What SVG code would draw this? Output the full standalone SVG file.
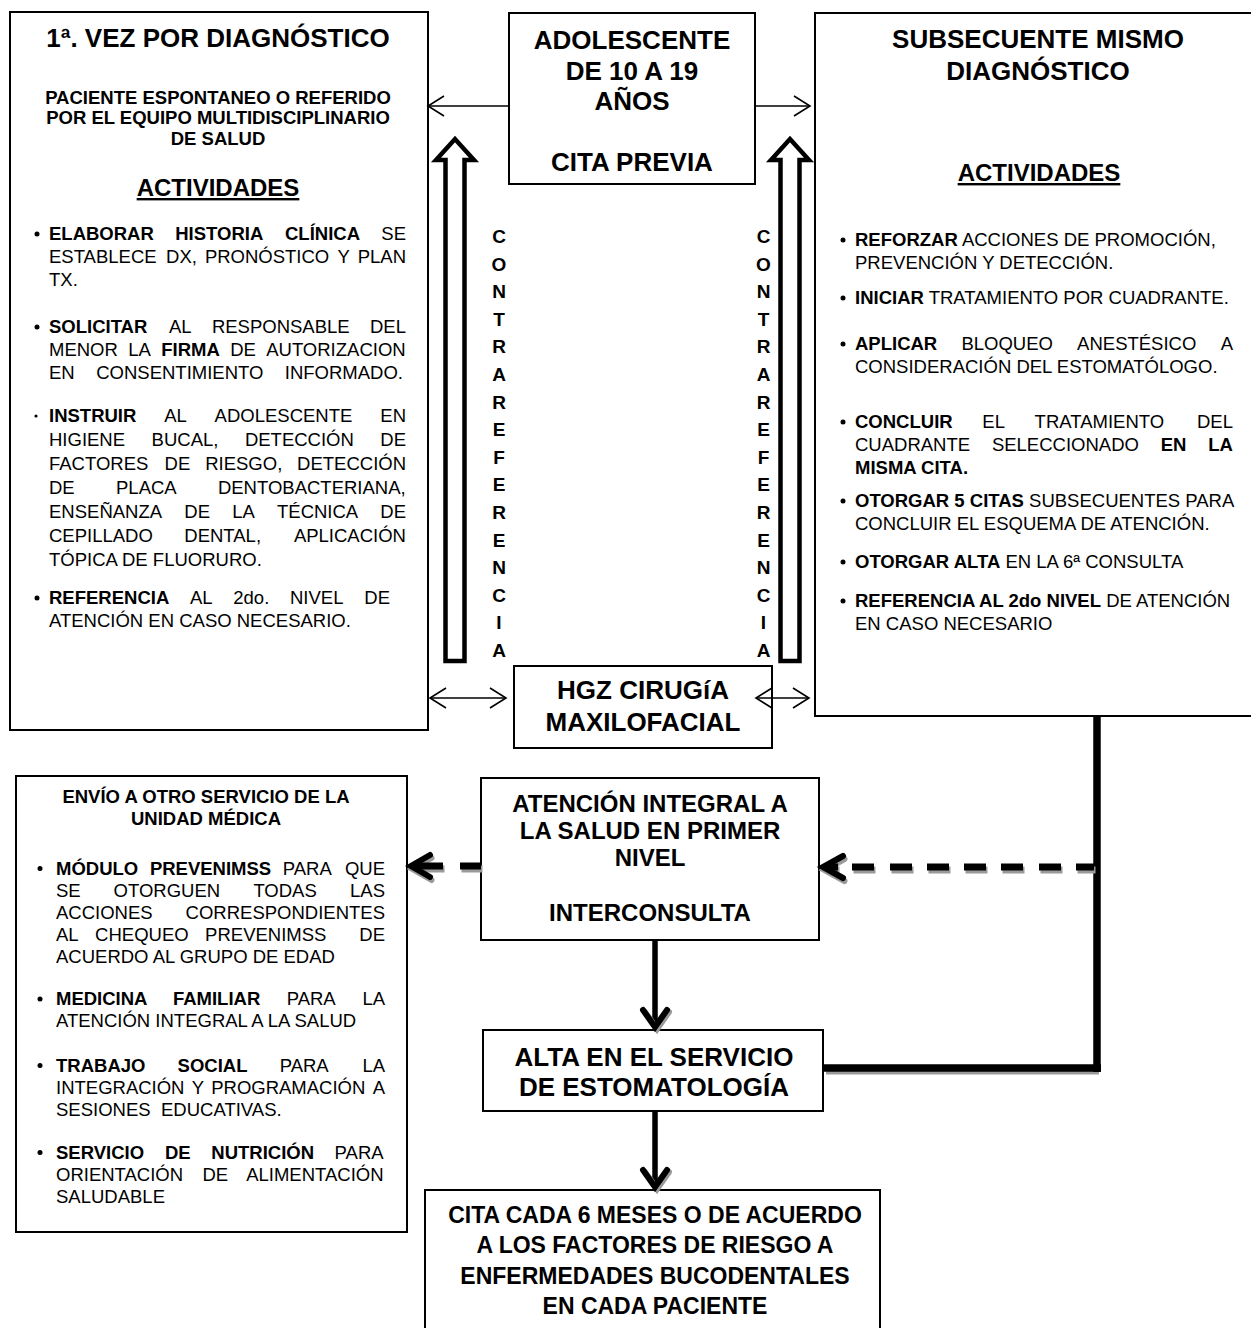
<svg xmlns="http://www.w3.org/2000/svg" width="1251" height="1328" viewBox="0 0 1251 1328">
<defs>
<style>
.bx{fill:#fff;stroke:#000;stroke-width:2}
text{font-family:"Liberation Sans",Arial,Helvetica,sans-serif;fill:#000}
.ti{font-size:26px;font-weight:bold;text-anchor:middle}
.tm{font-size:24px;font-weight:bold;text-anchor:middle}
.tc{font-size:23px;font-weight:bold;text-anchor:middle}
.sub{font-size:18.5px;font-weight:bold;text-anchor:middle}
.act{font-size:24px;font-weight:bold;text-anchor:middle;text-decoration:underline}
.bd{font-size:18.5px}
.b{font-weight:bold}
.vl{font-size:19px;font-weight:bold;text-anchor:middle}
.thin{fill:none;stroke:#000;stroke-width:1.6}
.blk{fill:#fff;stroke:#000;stroke-width:4.5;stroke-linejoin:miter}
.thick{fill:none;stroke:#000;stroke-width:7.5}
.dash{fill:none;stroke:#000;stroke-width:7}
.shd{fill:none;stroke:#9a9a9a;stroke-width:7}
.chev{fill:none;stroke:#000;stroke-width:6;stroke-linecap:round;stroke-linejoin:miter}
.chevs{fill:none;stroke:#9a9a9a;stroke-width:6;stroke-linecap:round}
.vln{fill:none;stroke:#000;stroke-width:5.5}
</style>
</defs>
<rect width="1251" height="1328" fill="#fff"/>

<!-- first visit box -->
<g id="primera-vez">
  <rect class="bx" x="10" y="12" width="418" height="718"/>
  <text class="ti" x="218" y="47">1ª. VEZ POR DIAGNÓSTICO</text>
  <text class="sub" x="218" y="104">PACIENTE ESPONTANEO O REFERIDO</text>
  <text class="sub" x="218" y="124">POR EL EQUIPO MULTIDISCIPLINARIO</text>
  <text class="sub" x="218" y="145">DE SALUD</text>
  <text class="act" x="218" y="196">ACTIVIDADES</text>
  <circle cx="37" cy="234" r="2.5"/>
  <text class="bd" y="240"><tspan x="49" class="b">ELABORAR</tspan><tspan x="175.2" class="b">HISTORIA</tspan><tspan x="285" class="b">CLÍNICA</tspan><tspan x="381.3">SE</tspan></text>
  <text class="bd" y="263"><tspan x="49">ESTABLECE</tspan><tspan x="166.1">DX,</tspan><tspan x="204.9">PRONÓSTICO</tspan><tspan x="337.4">Y</tspan><tspan x="357.7">PLAN</tspan></text>
  <text class="bd" x="49" y="286">TX.</text>
  <circle cx="37" cy="327" r="2.5"/>
  <text class="bd" y="333"><tspan x="49" class="b">SOLICITAR</tspan><tspan x="169">AL</tspan><tspan x="211.9">RESPONSABLE</tspan><tspan x="370">DEL</tspan></text>
  <text class="bd" y="356"><tspan x="49">MENOR</tspan><tspan x="128.3">LA</tspan><tspan x="161.2" class="b">FIRMA</tspan><tspan x="230.2">DE</tspan><tspan x="266.2">AUTORIZACION</tspan></text>
  <text class="bd" y="379"><tspan x="49">EN</tspan><tspan x="96.2">CONSENTIMIENTO</tspan><tspan x="284.8">INFORMADO.</tspan></text>
  <circle cx="36" cy="416" r="1.6"/>
  <text class="bd" y="422"><tspan x="49" class="b">INSTRUIR</tspan><tspan x="164.2">AL</tspan><tspan x="214.6">ADOLESCENTE</tspan><tspan x="380.3">EN</tspan></text>
  <text class="bd" y="446"><tspan x="49">HIGIENE</tspan><tspan x="151.6">BUCAL,</tspan><tspan x="244.9">DETECCIÓN</tspan><tspan x="380.3">DE</tspan></text>
  <text class="bd" y="470"><tspan x="49">FACTORES</tspan><tspan x="164.6">DE</tspan><tspan x="205.2">RIESGO,</tspan><tspan x="297.1">DETECCIÓN</tspan></text>
  <text class="bd" y="494"><tspan x="49">DE</tspan><tspan x="116">PLACA</tspan><tspan x="217.9">DENTOBACTERIANA,</tspan></text>
  <text class="bd" y="518"><tspan x="49">ENSEÑANZA</tspan><tspan x="184.3">DE</tspan><tspan x="232.2">LA</tspan><tspan x="277">TÉCNICA</tspan><tspan x="380.3">DE</tspan></text>
  <text class="bd" y="542"><tspan x="49">CEPILLADO</tspan><tspan x="184.3">DENTAL,</tspan><tspan x="293.9">APLICACIÓN</tspan></text>
  <text class="bd" x="49" y="566">TÓPICA DE FLUORURO.</text>
  <circle cx="37" cy="598" r="2.5"/>
  <text class="bd" y="604"><tspan x="49" class="b">REFERENCIA</tspan><tspan x="190">AL</tspan><tspan x="233.3">2do.</tspan><tspan x="290">NIVEL</tspan><tspan x="364.3">DE</tspan></text>
  <text class="bd" x="49" y="627">ATENCIÓN EN CASO NECESARIO.</text>
</g>

<!-- patient box -->
<g id="adolescente">
  <rect class="bx" x="509" y="13" width="246" height="171"/>
  <text class="ti" x="632" y="49">ADOLESCENTE</text>
  <text class="ti" x="632" y="80">DE 10 A 19</text>
  <text class="ti" x="632" y="110">AÑOS</text>
  <text class="ti" x="632" y="171">CITA PREVIA</text>
</g>

<!-- follow-up box -->
<g id="subsecuente">
  <rect class="bx" x="815" y="13" width="450" height="703"/>
  <text class="ti" x="1038" y="48">SUBSECUENTE MISMO</text>
  <text class="ti" x="1038" y="80">DIAGNÓSTICO</text>
  <text class="act" x="1039" y="181">ACTIVIDADES</text>
  <circle cx="843" cy="240" r="2.5"/>
  <text class="bd" x="855" y="246"><tspan class="b">REFORZAR</tspan> ACCIONES DE PROMOCIÓN,</text>
  <text class="bd" x="855" y="269">PREVENCIÓN Y DETECCIÓN.</text>
  <circle cx="843" cy="298" r="2.5"/>
  <text class="bd" x="855" y="304"><tspan class="b">INICIAR</tspan> TRATAMIENTO POR CUADRANTE.</text>
  <circle cx="843" cy="344" r="2.5"/>
  <text class="bd" y="350"><tspan x="855" class="b">APLICAR</tspan><tspan x="961.4">BLOQUEO</tspan><tspan x="1077.1">ANESTÉSICO</tspan><tspan x="1220.7">A</tspan></text>
  <text class="bd" x="855" y="373">CONSIDERACIÓN DEL ESTOMATÓLOGO.</text>
  <circle cx="843" cy="422" r="2.5"/>
  <text class="bd" y="428"><tspan x="855" class="b">CONCLUIR</tspan><tspan x="982.3">EL</tspan><tspan x="1034.6">TRATAMIENTO</tspan><tspan x="1197">DEL</tspan></text>
  <text class="bd" y="451"><tspan x="855">CUADRANTE</tspan><tspan x="991.9">SELECCIONADO</tspan><tspan x="1160.7" class="b">EN</tspan><tspan x="1208.3" class="b">LA</tspan></text>
  <text class="bd b" x="855" y="474">MISMA CITA.</text>
  <circle cx="843" cy="501" r="2.5"/>
  <text class="bd" x="855" y="507"><tspan class="b">OTORGAR 5 CITAS</tspan> SUBSECUENTES PARA</text>
  <text class="bd" x="855" y="530">CONCLUIR EL ESQUEMA DE ATENCIÓN.</text>
  <circle cx="843" cy="562" r="2.5"/>
  <text class="bd" x="855" y="568"><tspan class="b">OTORGAR ALTA</tspan> EN LA 6ª CONSULTA</text>
  <circle cx="843" cy="601" r="2.5"/>
  <text class="bd" x="855" y="607"><tspan class="b">REFERENCIA AL 2do NIVEL</tspan> DE ATENCIÓN</text>
  <text class="bd" x="855" y="630">EN CASO NECESARIO</text>
</g>

<!-- counter-referral labels -->
<g id="contrareferencia-izq">
  <text class="vl" x="499" y="243">C</text><text class="vl" x="499" y="270.6">O</text><text class="vl" x="499" y="298.2">N</text><text class="vl" x="499" y="325.8">T</text>
  <text class="vl" x="499" y="353.4">R</text><text class="vl" x="499" y="381">A</text><text class="vl" x="499" y="408.6">R</text><text class="vl" x="499" y="436.2">E</text>
  <text class="vl" x="499" y="463.8">F</text><text class="vl" x="499" y="491.4">E</text><text class="vl" x="499" y="519">R</text><text class="vl" x="499" y="546.6">E</text>
  <text class="vl" x="499" y="574.2">N</text><text class="vl" x="499" y="601.8">C</text><text class="vl" x="499" y="629.4">I</text><text class="vl" x="499" y="657">A</text>
</g>
<g id="contrareferencia-der">
  <text class="vl" x="763.5" y="243">C</text><text class="vl" x="763.5" y="270.6">O</text><text class="vl" x="763.5" y="298.2">N</text><text class="vl" x="763.5" y="325.8">T</text>
  <text class="vl" x="763.5" y="353.4">R</text><text class="vl" x="763.5" y="381">A</text><text class="vl" x="763.5" y="408.6">R</text><text class="vl" x="763.5" y="436.2">E</text>
  <text class="vl" x="763.5" y="463.8">F</text><text class="vl" x="763.5" y="491.4">E</text><text class="vl" x="763.5" y="519">R</text><text class="vl" x="763.5" y="546.6">E</text>
  <text class="vl" x="763.5" y="574.2">N</text><text class="vl" x="763.5" y="601.8">C</text><text class="vl" x="763.5" y="629.4">I</text><text class="vl" x="763.5" y="657">A</text>
</g>

<!-- surgery referral -->
<g id="hgz">
  <rect class="bx" x="514" y="666" width="258" height="82"/>
  <text class="ti" x="643" y="699">HGZ CIRUGíA</text>
  <text class="ti" x="643" y="731">MAXILOFACIAL</text>
</g>

<!-- other services -->
<g id="envio">
  <rect class="bx" x="16" y="776" width="391" height="456"/>
  <text class="sub" x="206" y="803">ENVÍO A OTRO SERVICIO DE LA</text>
  <text class="sub" x="206" y="825">UNIDAD MÉDICA</text>
  <circle cx="40" cy="868.5" r="2.5"/>
  <text class="bd" y="874.5"><tspan x="56" class="b">MÓDULO</tspan><tspan x="149.9" class="b">PREVENIMSS</tspan><tspan x="282.8">PARA</tspan><tspan x="344.9">QUE</tspan></text>
  <text class="bd" y="896.5"><tspan x="56">SE</tspan><tspan x="113.6">OTORGUEN</tspan><tspan x="253.4">TODAS</tspan><tspan x="350">LAS</tspan></text>
  <text class="bd" y="918.5"><tspan x="56">ACCIONES</tspan><tspan x="185.6">CORRESPONDIENTES</tspan></text>
  <text class="bd" y="940.5"><tspan x="56">AL</tspan><tspan x="95.1">CHEQUEO</tspan><tspan x="205.1">PREVENIMSS</tspan><tspan x="359.3">DE</tspan></text>
  <text class="bd" x="56" y="962.5">ACUERDO AL GRUPO DE EDAD</text>
  <circle cx="40" cy="999" r="2.5"/>
  <text class="bd" y="1005"><tspan x="56" class="b">MEDICINA</tspan><tspan x="172.9" class="b">FAMILIAR</tspan><tspan x="286.7">PARA</tspan><tspan x="362.4">LA</tspan></text>
  <text class="bd" x="56" y="1027">ATENCIÓN INTEGRAL A LA SALUD</text>
  <circle cx="40" cy="1065.5" r="2.5"/>
  <text class="bd" y="1071.5"><tspan x="56" class="b">TRABAJO</tspan><tspan x="177.6" class="b">SOCIAL</tspan><tspan x="279.7">PARA</tspan><tspan x="362.4">LA</tspan></text>
  <text class="bd" y="1093.5"><tspan x="56">INTEGRACIÓN</tspan><tspan x="191.7">Y</tspan><tspan x="211.2">PROGRAMACIÓN</tspan><tspan x="372.7">A</tspan></text>
  <text class="bd" y="1115.5"><tspan x="56">SESIONES</tspan><tspan x="161">EDUCATIVAS.</tspan></text>
  <circle cx="40" cy="1152.5" r="2.5"/>
  <text class="bd" y="1158.5"><tspan x="56" class="b">SERVICIO</tspan><tspan x="165" class="b">DE</tspan><tspan x="211.3" class="b">NUTRICIÓN</tspan><tspan x="334.6">PARA</tspan></text>
  <text class="bd" y="1180.5"><tspan x="56">ORIENTACIÓN</tspan><tspan x="202.5">DE</tspan><tspan x="246.2">ALIMENTACIÓN</tspan></text>
  <text class="bd" x="56" y="1202.5">SALUDABLE</text>
</g>

<!-- interconsultation -->
<g id="atencion-integral">
  <rect class="bx" x="481" y="778" width="338" height="162"/>
  <text class="tm" x="650" y="811.5">ATENCIÓN INTEGRAL A</text>
  <text class="tm" x="650" y="838.5">LA SALUD EN PRIMER</text>
  <text class="tm" x="650" y="865.5">NIVEL</text>
  <text class="tm" x="650" y="920.5">INTERCONSULTA</text>
</g>

<!-- discharge -->
<g id="alta">
  <rect class="bx" x="483" y="1030" width="340" height="81"/>
  <text class="ti" x="654" y="1066">ALTA EN EL SERVICIO</text>
  <text class="ti" x="654" y="1096">DE ESTOMATOLOGÍA</text>
</g>

<!-- next appointment -->
<g id="cita">
  <rect class="bx" x="425" y="1190" width="455" height="150"/>
  <text class="tc" x="655" y="1223">CITA CADA 6 MESES O DE ACUERDO</text>
  <text class="tc" x="655" y="1253">A LOS FACTORES DE RIESGO A</text>
  <text class="tc" x="655" y="1284">ENFERMEDADES BUCODENTALES</text>
  <text class="tc" x="655" y="1314">EN CADA PACIENTE</text>
</g>

<!-- connectors -->
<g id="connectors">
  <!-- adolescent box to both consultation boxes -->
  <line class="thin" x1="509" y1="106" x2="429" y2="106"/>
  <polyline class="thin" points="444,96 428,106 444,116"/>
  <line class="thin" x1="755" y1="106" x2="809" y2="106"/>
  <polyline class="thin" points="794,96 810,106 794,116"/>
  <!-- two-way links with the surgery box -->
  <line class="thin" x1="431" y1="698" x2="505" y2="698"/>
  <polyline class="thin" points="446,688 430,698 446,708"/>
  <polyline class="thin" points="490,688 506,698 490,708"/>
  <line class="thin" x1="757" y1="698" x2="808" y2="698"/>
  <polyline class="thin" points="772,688 756,698 772,708"/>
  <polyline class="thin" points="793,688 809,698 793,708"/>
  <!-- counter-referral block arrows -->
  <polygon class="blk" points="445.5,661 445.5,160 436,160 455,139 474,160 464.5,160 464.5,661"/>
  <polygon class="blk" points="780.5,661 780.5,160 771,160 790,139 809,160 799.5,160 799.5,661"/>
  <!-- thick return path from the follow-up box -->
  <line class="shd" x1="826" y1="1071" x2="1099" y2="1071"/>
  <line class="thick" x1="1097" y1="716" x2="1097" y2="1072"/>
  <line class="thick" x1="823" y1="1068" x2="1101" y2="1068"/>
  <!-- dashed arrow into the interconsultation box -->
  <g transform="translate(1.5,3)">
    <path class="shd" d="M1076,867H1094M1039,867H1061M1001,867H1023M964,867H986M927,867H949M890,867H912M852,867H874M824,867H838"/>
    <polyline class="chevs" points="843,856 823,867 843,878"/>
  </g>
  <path class="dash" d="M1076,867H1094M1039,867H1061M1001,867H1023M964,867H986M927,867H949M890,867H912M852,867H874M824,867H838"/>
  <polyline class="chev" points="843,856 823,867 843,878"/>
  <!-- dashed arrow into the referral box -->
  <g transform="translate(1.5,3)">
    <path class="shd" d="M460,866H481M414,866H443"/>
    <polyline class="chevs" points="430,855 411,866 430,877"/>
  </g>
  <path class="dash" d="M460,866H481M414,866H443"/>
  <polyline class="chev" points="430,855 411,866 430,877"/>
  <!-- vertical flow arrows -->
  <line class="vln" x1="655" y1="941" x2="655" y2="1026"/>
  <polyline class="chevs" points="645,1012 657,1029 669,1012"/>
  <polyline class="chev" points="643,1010 655,1027 667,1010"/>
  <line class="vln" x1="655" y1="1112" x2="655" y2="1186"/>
  <polyline class="chevs" points="645,1172 657,1189 669,1172"/>
  <polyline class="chev" points="643,1170 655,1187 667,1170"/>
</g>
</svg>
